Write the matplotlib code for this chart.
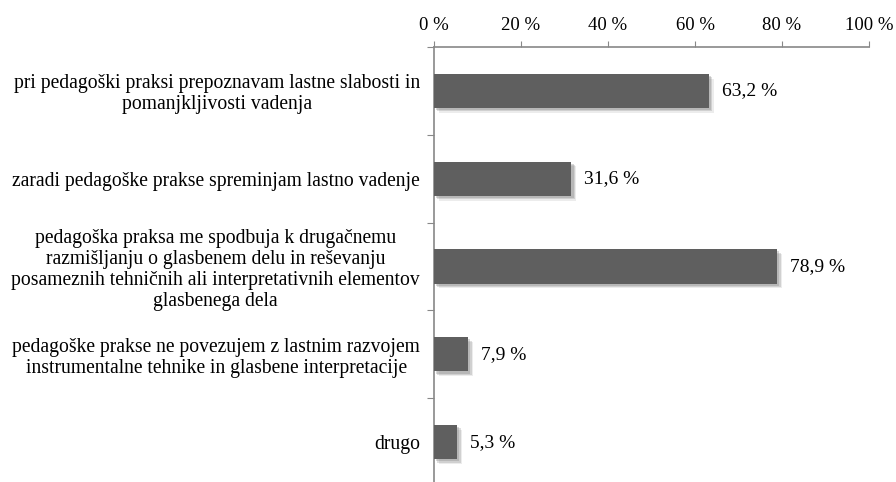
import matplotlib
matplotlib.use("Agg")
import matplotlib.pyplot as plt
import matplotlib.patheffects as pe

categories = [
    "pri pedagoški praksi prepoznavam lastne slabosti in\npomanjkljivosti vadenja",
    "zaradi pedagoške prakse spreminjam lastno vadenje",
    "pedagoška praksa me spodbuja k drugačnemu\nrazmišljanju o glasbenem delu in reševanju\nposameznih tehničnih ali interpretativnih elementov\nglasbenega dela",
    "pedagoške prakse ne povezujem z lastnim razvojem\ninstrumentalne tehnike in glasbene interpretacije",
    "drugo",
]
values = [63.2, 31.6, 78.9, 7.9, 5.3]
xticks = [0, 20, 40, 60, 80, 100]
xticklabels = ["0 %", "20 %", "40 %", "60 %", "80 %", "100 %"]

plt.rcParams['font.family'] = ['Liberation Serif', 'DejaVu Serif']

fig = plt.figure(figsize=(8.96, 4.82), dpi=100)
ax = fig.add_axes([434/896, -4/482, 435/896, (482-47+4)/482])

n = len(categories)
ypos = list(range(n))
bars = ax.barh(ypos, values, height=0.39, color="#5f5f5f", zorder=3)
for b in bars:
    b.set_path_effects([
        pe.SimplePatchShadow(offset=(3.5, -3.5), shadow_rgbFace="#808080", alpha=0.15),
        pe.SimplePatchShadow(offset=(2.5, -2.5), shadow_rgbFace="#808080", alpha=0.25),
        pe.SimplePatchShadow(offset=(1.5, -1.5), shadow_rgbFace="#808080", alpha=0.3),
        pe.Normal(),
    ])

for y, v in zip(ypos, values):
    ax.text(v + 2.9, y, f"{v:.1f} %".replace(".", ","), va="center", ha="left",
            fontsize=14, color="black")

ax.set_xlim(0, 100)
ax.set_ylim(n - 0.5, -0.5)
ax.xaxis.tick_top()
ax.set_xticks(xticks)
ax.set_xticklabels(xticklabels, fontsize=13.5)
ax.tick_params(axis="x", direction="out", length=4, color="#888888", pad=5)

ax.set_yticks([i + 0.5 for i in range(-1, n)], minor=False)
ax.set_yticklabels([])
ax.tick_params(axis="y", direction="out", length=5, color="#888888")
ax.set_yticks(ypos, minor=True)
ax.set_yticklabels(categories, minor=True, fontsize=14.1, ha="right",
                   multialignment="center", linespacing=1.15)
ax.tick_params(axis="y", which="minor", length=0, pad=10)

for s in ["right", "bottom"]:
    ax.spines[s].set_visible(False)
for s in ["top", "left"]:
    ax.spines[s].set_color("#888888")
    ax.spines[s].set_linewidth(1.2)

fig.savefig("out.png", dpi=100)
